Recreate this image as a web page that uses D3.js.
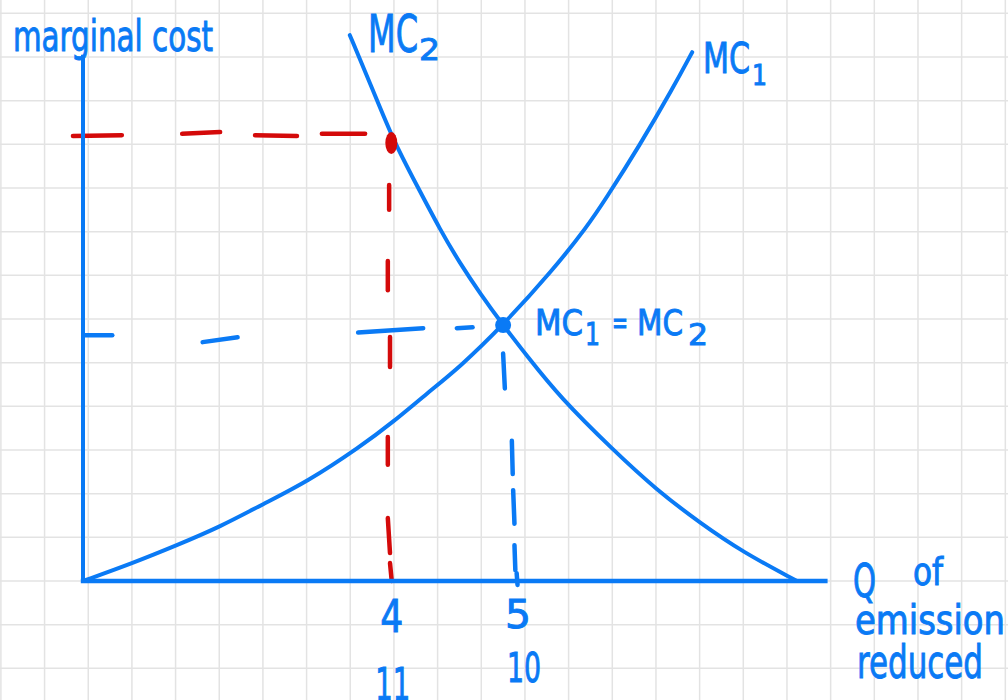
<!DOCTYPE html>
<html lang="en">

<head>
    <meta charset="UTF-8">
    <meta name="viewport" content="width=device-width, initial-scale=1.0">
    <title>Marginal cost</title>
    <style>
        body { margin: 0; background: #fff; }
        svg { display: block; }
        .hand { font-family: "Liberation Sans Narrow", "DejaVu Sans Condensed", "Liberation Sans", sans-serif; fill: #0a7af5; stroke: #0a7af5; stroke-width: 0.9; }
    </style>
</head>

<body>
    <div id="my_dataviz"></div>

    <script src="https://d3js.org/d3.v7.min.js"></script>
    <script>

        // MC1 (rising) - quantity and cost, in grid squares
        var mc1Q    = [0, 1.14, 2.15, 3.14, 4.12, 5.13, 6.34, 7.10, 7.88, 8.63, 9.62, 10.76, 11.54, 11.95, 12.75, 13.51, 13.95];
        var mc1Cost = [0, 0.41, 0.82, 1.24, 1.76, 2.27, 3.07, 3.64, 4.30, 4.90, 5.86, 7.12, 8.11, 8.72, 9.98, 11.29, 12.11];

        // MC2 (falling)
        var mc2Q    = [6.11, 6.64, 7.10, 7.65, 8.18, 8.63, 9.09, 9.62, 10.17, 10.92, 12.14, 13.14, 14.13, 15.11, 16.35];
        var mc2Cost = [12.50, 11.24, 10.10, 9.05, 8.04, 7.28, 6.59, 5.86, 5.15, 4.21, 3.00, 2.08, 1.33, 0.66, 0];

        // marked points
        var equalPoint = [9.62, 5.86];
        var mc2Point = [7.06, 10.03];

        // hand drawn dashes [q1, cost1, q2, cost2]
        var redDashes = [
            [-0.23, 10.19, 0.89, 10.21], [2.27, 10.24, 3.14, 10.28], [3.94, 10.21, 4.90, 10.19], [5.47, 10.24, 6.46, 10.24],
            [7.01, 9.07, 7.01, 8.50], [6.98, 7.33, 6.98, 6.66], [7.03, 5.59, 7.03, 4.90],
            [6.98, 3.30, 6.98, 2.66], [6.98, 1.44, 7.03, 0.64], [7.03, 0.41, 7.07, 0]
        ];
        var blueDashes = [
            [0.01, 5.63, 0.67, 5.63], [2.74, 5.47, 3.54, 5.58], [6.30, 5.69, 7.79, 5.79], [8.56, 5.79, 8.92, 5.81],
            [9.62, 5.21, 9.66, 4.41], [9.82, 3.21, 9.84, 2.45], [9.85, 2.08, 9.88, 1.31],
            [9.88, 0.82, 9.90, 0.25], [9.93, 0.18, 9.95, -0.09]
        ];

        // quantity labels under the axis
        var qLabels = ["4", "5"];
        var qLabels2 = ["11", "10"];

        var blue = "#0a7af5", red = "#d40a0a";

        // set the dimensions and margins of the graph
        var margin = {top: 57, right: 182.6, bottom: 119, left: 83},
            width = 1008 - margin.left - margin.right,
            height = 700 - margin.top - margin.bottom;

        var root = d3.select("#my_dataviz")
          .append("svg")
            .attr("width", 1008)
            .attr("height", 700);

        var svg = root.append("g")
            .attr("transform", "translate(" + margin.left + "," + margin.top + ")");

        var x = d3.scaleLinear().domain([0, 17]).range([0, width]);
        var y = d3.scaleLinear().domain([0, 12]).range([height, 0]);

        // grid paper
        svg.append("g")
          .selectAll("line")
          .data(d3.range(-2, 22))
          .enter().append("line")
            .attr("x1", function(d) { return x(d + 0.12); })
            .attr("x2", function(d) { return x(d + 0.12); })
            .attr("y1", y(14)).attr("y2", y(-4))
            .attr("stroke", "#e3e3e3").attr("stroke-width", 1.5);
        svg.append("g")
          .selectAll("line")
          .data(d3.range(-3, 14))
          .enter().append("line")
            .attr("y1", function(d) { return y(d); })
            .attr("y2", function(d) { return y(d); })
            .attr("x1", x(-3)).attr("x2", x(22))
            .attr("stroke", "#e3e3e3").attr("stroke-width", 1.5);

        // dashes
        function addDashes(list, color) {
            svg.append("g")
              .selectAll("line")
              .data(list)
              .enter().append("line")
                .attr("x1", function(d) { return x(d[0]); })
                .attr("y1", function(d) { return y(d[1]); })
                .attr("x2", function(d) { return x(d[2]); })
                .attr("y2", function(d) { return y(d[3]); })
                .attr("stroke", color)
                .attr("stroke-width", 4.5)
                .attr("stroke-linecap", "round");
        }
        addDashes(redDashes, red);
        addDashes(blueDashes, blue);

        // axes
        svg.append("line")
            .attr("x1", x(0)).attr("y1", y(0))
            .attr("x2", x(0)).attr("y2", y(12.05))
            .attr("stroke", blue).attr("stroke-width", 4);
        svg.append("line")
            .attr("x1", x(-0.05)).attr("y1", y(0))
            .attr("x2", x(17.05)).attr("y2", y(0))
            .attr("stroke", blue).attr("stroke-width", 4.5);

        // curves (smoothed like a pen stroke)
        var line = d3.line()
            .x(function(d) { return x(d[0]); })
            .y(function(d) { return y(d[1]); })
            .curve(d3.curveBasis);

        svg.append("path")
            .datum(d3.zip(mc1Q, mc1Cost))
            .attr("fill", "none")
            .attr("stroke", blue)
            .attr("stroke-width", 4)
            .attr("stroke-linecap", "round")
            .attr("d", line);

        svg.append("path")
            .datum(d3.zip(mc2Q, mc2Cost))
            .attr("fill", "none")
            .attr("stroke", blue)
            .attr("stroke-width", 4)
            .attr("stroke-linecap", "round")
            .attr("d", line);

        // points
        svg.append("ellipse")
            .attr("cx", x(mc2Point[0])).attr("cy", y(mc2Point[1]))
            .attr("rx", 6).attr("ry", 11)
            .attr("fill", red);
        svg.append("circle")
            .attr("cx", x(equalPoint[0])).attr("cy", y(equalPoint[1]))
            .attr("r", 8)
            .attr("fill", blue);

        // handwritten labels
        function label(txt, px, py, size, len) {
            root.append("text")
                .attr("class", "hand")
                .attr("x", px).attr("y", py)
                .attr("font-size", size)
                .attr("textLength", len)
                .attr("lengthAdjust", "spacingAndGlyphs")
                .text(txt);
        }
        label("marginal cost", 13, 51, 42, 200);
        label("MC", 368, 52, 52, 50);
        label("2", 419, 60, 31, 21);
        label("MC", 703, 73, 42, 47);
        label("1", 752, 85, 28, 15);
        label("MC", 535, 335, 35, 48);
        label("1", 585, 345, 32, 15);
        label("=", 612, 334, 32, 16);
        label("MC", 637, 335, 35, 46);
        label("2", 688, 345, 30, 20);

        label(qLabels[0], margin.left + x(7.06) - 11, 632, 44, 23);
        label(qLabels[1], margin.left + x(9.96) - 13, 628, 39, 26);
        label(qLabels2[0], margin.left + x(7.08) - 17, 700, 45, 35);
        label(qLabels2[1], margin.left + x(10.1) - 17, 682, 40, 34);

        label("Q", 853, 597, 46, 23);
        label("of", 913, 585, 37, 30);
        label("emission", 855, 634, 40, 150);
        label("reduced", 857, 678, 46, 126);

    </script>

</body>

</html>
